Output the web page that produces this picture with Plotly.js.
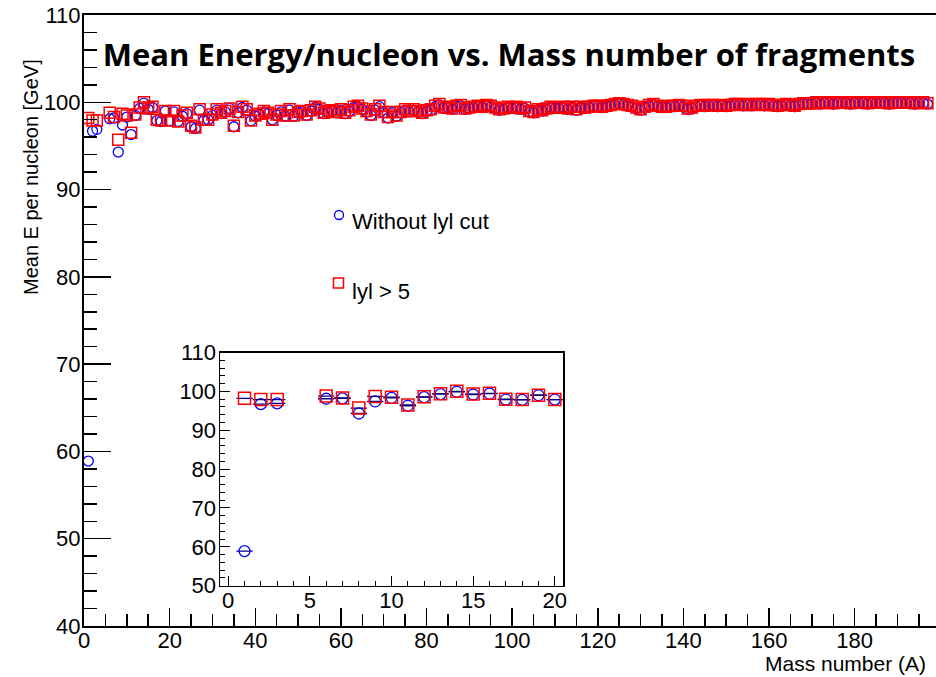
<!DOCTYPE html>
<html>
<head>
<meta charset="utf-8">
<script src="https://cdn.plot.ly/plotly-3.0.1.min.js"></script>
<style>html,body{margin:0;padding:0;background:#fff;}#chart{width:936px;height:677px;}</style>
</head>
<body>
<div id="chart"></div>
<script>
// Mass number A of the fragments
const massNumber = [1,2,3,6,7,8,9,10,11,12,13,14,15,16,17,18,19,20,
21,22,23,24,25,26,27,28,29,30,31,32,33,34,35,36,37,38,39,40,
41,42,43,44,45,46,47,48,49,50,51,52,53,54,55,56,57,58,59,60,
61,62,63,64,65,66,67,68,69,70,71,72,73,74,75,76,77,78,79,80,
81,82,83,84,85,86,87,88,89,90,91,92,93,94,95,96,97,98,99,100,
101,102,103,104,105,106,107,108,109,110,111,112,113,114,115,116,117,118,119,120,
121,122,123,124,125,126,127,128,129,130,131,132,133,134,135,136,137,138,139,140,
141,142,143,144,145,146,147,148,149,150,151,152,153,154,155,156,157,158,159,160,
161,162,163,164,165,166,167,168,169,170,171,172,173,174,175,176,177,178,179,180,
181,182,183,184,185,186,187,188,189,190,191,192,193,194,195,196,197];

// Mean E per nucleon [GeV], |y| > 5 (red squares)
const meanCut = [98.2,97.9,97.9,98.8,98.3,95.7,98.7,98.5,96.5,98.6,99.4,100.0,99.3,99.5,98.0,97.9,99.0,97.9,
99.0,97.8,98.5,98.8,97.3,97.1,99.2,98.0,98.0,98.6,99.2,98.8,99.0,99.3,97.3,98.9,99.5,99.2,97.9,98.5,
98.7,99.0,98.8,98.0,98.6,99.0,98.5,99.2,98.5,98.9,99.0,98.6,99.1,99.5,99.3,98.8,99.0,99.1,98.9,99.2,
98.8,99.1,99.5,99.6,99.3,99.0,98.6,99.2,99.6,98.9,98.3,98.9,98.5,98.9,99.2,99.0,99.2,99.0,98.8,99.1,
99.2,99.6,99.8,99.4,99.5,99.3,99.6,99.7,99.3,99.4,99.5,99.6,99.5,99.7,99.6,99.4,99.2,99.3,99.5,99.4,
99.5,99.3,99.4,99.0,98.9,99.2,99.1,99.3,99.5,99.4,99.4,99.5,99.3,99.5,99.2,99.5,99.4,99.5,99.6,99.6,
99.5,99.6,99.7,99.8,99.9,99.8,99.7,99.6,99.4,99.2,99.5,99.7,99.8,99.6,99.5,99.5,99.6,99.6,99.7,99.6,
99.3,99.4,99.6,99.7,99.6,99.7,99.7,99.6,99.7,99.6,99.7,99.8,99.8,99.7,99.8,99.7,99.8,99.8,99.7,99.8,
99.7,99.6,99.7,99.8,99.7,99.6,99.8,99.9,99.9,99.9,100.0,99.9,100.0,100.0,99.9,100.0,100.0,100.0,99.9,100.0,
100.0,100.0,99.9,100.0,100.0,100.0,100.0,99.9,100.0,100.0,100.0,100.0,100.0,99.9,100.0,100.0,99.9];

// Mean E per nucleon [GeV], without |y| cut (blue circles)
const meanNoCut = [58.9,96.7,96.9,98.1,98.2,94.3,97.4,98.3,96.3,98.5,99.3,99.9,99.2,99.4,97.9,97.8,99.0,97.9,
98.9,97.8,98.4,98.7,97.2,97.0,99.1,97.9,98.0,98.5,99.1,98.7,98.9,99.3,97.2,98.8,99.4,99.1,97.9,98.4,
98.6,98.9,98.7,98.0,98.5,98.9,98.4,99.1,98.4,98.8,98.9,98.5,99.0,99.4,99.2,98.7,98.9,99.0,98.8,99.1,
98.7,99.0,99.4,99.5,99.2,98.9,98.5,99.1,99.5,98.8,98.2,98.8,98.4,98.8,99.1,98.9,99.1,98.9,98.7,99.0,
99.1,99.5,99.7,99.3,99.4,99.2,99.5,99.6,99.2,99.3,99.4,99.5,99.4,99.6,99.5,99.3,99.1,99.2,99.4,99.3,
99.4,99.2,99.3,98.9,98.8,99.1,99.0,99.2,99.4,99.3,99.3,99.4,99.2,99.4,99.1,99.4,99.3,99.4,99.5,99.5,
99.4,99.5,99.6,99.7,99.8,99.7,99.6,99.5,99.3,99.1,99.4,99.6,99.7,99.5,99.4,99.4,99.5,99.5,99.6,99.5,
99.2,99.3,99.5,99.6,99.5,99.6,99.6,99.5,99.6,99.5,99.6,99.7,99.7,99.6,99.7,99.6,99.7,99.7,99.6,99.7,
99.6,99.5,99.6,99.7,99.6,99.5,99.7,99.8,99.8,99.8,99.9,99.8,99.9,99.9,99.8,99.9,99.9,99.9,99.8,99.9,
99.9,99.9,99.8,99.9,99.9,99.9,99.9,99.8,99.9,99.9,99.9,99.9,99.9,99.8,99.9,99.9,99.8];

const seriesNames = ['Without lyl cut', 'lyl > 5'];
const insetMaxA = 20;

const BLUE = '#0000ff', RED = '#ff0000', NAVY = '#00007f';
const SANS = 'Liberation Sans, Arial, sans-serif';
const tickFont = {family: SANS, size: 22, color: '#000'};

function pick(arr) { return arr.filter((v, i) => massNumber[i] <= insetMaxA); }
const insetA = massNumber.filter(a => a <= insetMaxA);

function trace(x, y, xa, ya, isCut, msize, withErr) {
  const t = {
    type: 'scatter', mode: 'markers', x: x, y: y, xaxis: xa, yaxis: ya,
    name: isCut ? seriesNames[1] : seriesNames[0], showlegend: false, hoverinfo: 'x+y',
    marker: isCut
      ? {symbol: 'square-open', size: msize, color: RED, line: {width: 1.5, color: RED}}
      : {symbol: 'circle-open', size: msize - 1, color: BLUE, line: {width: 1.3, color: BLUE}}
  };
  if (withErr) t.error_x = {type: 'constant', value: 0.5, color: NAVY, thickness: 1.3, width: 0};
  return t;
}

const data = [
  trace(massNumber, meanNoCut, 'x', 'y', false, 11, false),
  trace(massNumber, meanCut, 'x', 'y', true, 11, false),
  trace(insetA, pick(meanNoCut), 'x2', 'y2', false, 12, true),
  trace(insetA, pick(meanCut), 'x2', 'y2', true, 12, true)
];

const ML = 84, MT = 15, MB = 51, W = 936, H = 677;
const PW = W - ML, PH = H - MT - MB;
function px(x) { return (x - ML) / PW; }
function py(y) { return (H - MB - y) / PH; }

const layout = {
  width: W, height: H,
  margin: {l: ML, r: 0, t: MT, b: MB, pad: 0},
  paper_bgcolor: '#fff', plot_bgcolor: 'rgba(0,0,0,0)',
  showlegend: false,
  title: {text: '<b>Mean Energy/nucleon vs. Mass number of fragments</b>',
    font: {family: 'Open Sans, sans-serif', size: 31, color: '#000'},
    x: 509 / W, xanchor: 'center', y: 1 - 55 / H, yanchor: 'middle'},
  xaxis: {
    domain: [0, 1], range: [0, 199], showgrid: false, zeroline: false,
    showline: true, linecolor: '#000', linewidth: 2, mirror: true,
    ticks: 'inside', ticklen: 18, tickwidth: 1.5, tickcolor: '#000', dtick: 20, tick0: 0,
    minor: {dtick: 5, ticks: 'inside', ticklen: 12, tickwidth: 1.5, tickcolor: '#000', showgrid: false},
    tickfont: tickFont, ticklabelstandoff: -6
  },
  yaxis: {
    domain: [0, 1], range: [40, 110], showgrid: false, zeroline: false,
    showline: true, linecolor: '#000', linewidth: 2,
    ticks: 'inside', ticklen: 27, tickwidth: 1.5, tickcolor: '#000', dtick: 10, tick0: 0,
    minor: {dtick: 2, ticks: 'inside', ticklen: 13, tickwidth: 1.5, tickcolor: '#000', showgrid: false},
    tickfont: tickFont, ticklabelstandoff: -3
  },
  xaxis2: {
    domain: [px(220), px(563)], anchor: 'y2', range: [-0.5, 20.5], showgrid: false, zeroline: false,
    showline: true, linecolor: '#000', linewidth: 1.5, mirror: true,
    ticks: 'inside', ticklen: 10, tickwidth: 1, tickcolor: '#000', dtick: 5, tick0: 0,
    minor: {dtick: 1, ticks: 'inside', ticklen: 5, tickwidth: 1, tickcolor: '#000', showgrid: false},
    tickfont: tickFont, ticklabelstandoff: -6
  },
  yaxis2: {
    domain: [py(585.7), py(352.5)], anchor: 'x2', range: [50, 110], showgrid: false, zeroline: false,
    showline: true, linecolor: '#000', linewidth: 1.5, mirror: true,
    ticks: 'inside', ticklen: 10, tickwidth: 1, tickcolor: '#000', dtick: 10, tick0: 0,
    minor: {dtick: 2, ticks: 'inside', ticklen: 5, tickwidth: 1, tickcolor: '#000', showgrid: false},
    tickfont: tickFont, ticklabelstandoff: -2
  },
  shapes: [
    {type: 'rect', xref: 'paper', yref: 'paper', x0: px(220), x1: px(563), y0: py(585.7), y1: py(352.5),
     fillcolor: '#fff', line: {width: 0}, layer: 'below'},
    {type: 'circle', xref: 'paper', yref: 'paper', x0: px(334.5), x1: px(343.5), y0: py(210.5), y1: py(219.5),
     line: {color: BLUE, width: 1.3}},
    {type: 'rect', xref: 'paper', yref: 'paper', x0: px(333.5), x1: px(343.5), y0: py(278), y1: py(288),
     line: {color: RED, width: 1.5}}
  ],
  annotations: [
    {text: 'Mean E per nucleon [GeV]', xref: 'paper', yref: 'paper', x: px(31), y: py(177),
     xanchor: 'center', yanchor: 'middle', textangle: -90, showarrow: false,
     font: {family: SANS, size: 20, color: '#000'}},
    {text: 'Mass number (A)', xref: 'paper', yref: 'paper', x: px(928), y: py(664),
     xanchor: 'right', yanchor: 'middle', showarrow: false,
     font: {family: SANS, size: 21, color: '#000'}},
    {text: seriesNames[0], xref: 'paper', yref: 'paper', x: px(350), y: py(222),
     xanchor: 'left', yanchor: 'middle', showarrow: false,
     font: {family: SANS, size: 22, color: '#000'}},
    {text: seriesNames[1], xref: 'paper', yref: 'paper', x: px(350), y: py(291),
     xanchor: 'left', yanchor: 'middle', showarrow: false,
     font: {family: SANS, size: 22, color: '#000'}}
  ]
};

Plotly.newPlot('chart', data, layout, {displayModeBar: false, staticPlot: true});
</script>
</body>
</html>
